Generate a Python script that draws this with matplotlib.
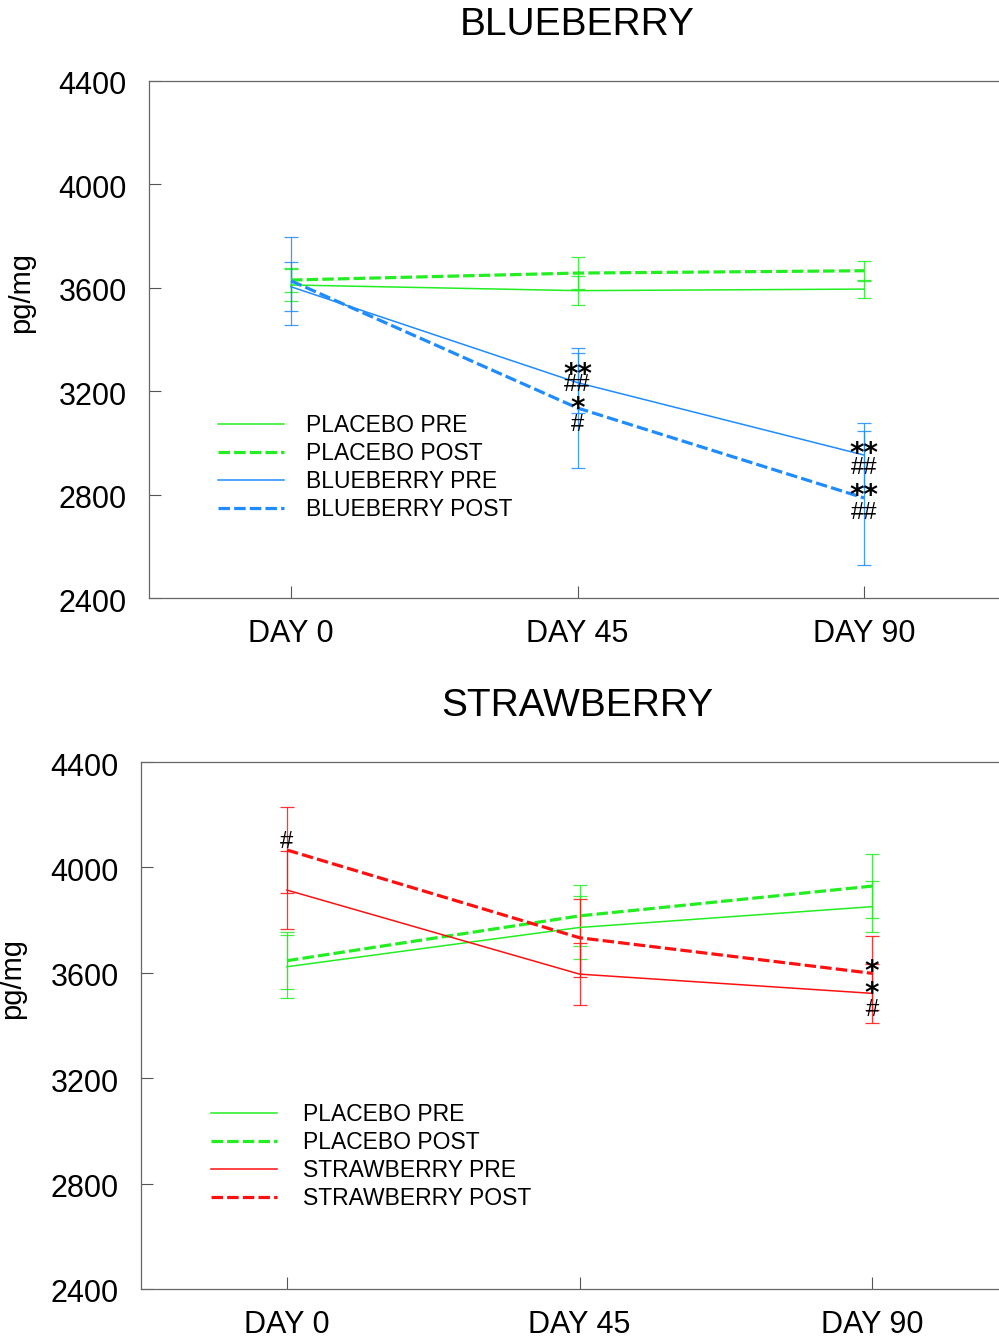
import matplotlib
matplotlib.use("Agg")
import matplotlib.pyplot as plt
import matplotlib.transforms as mtransforms

plt.rcParams['font.family'] = ['Liberation Sans', 'DejaVu Sans']

days = ["DAY 0", "DAY 45", "DAY 90"]
x_pos = [0, 1, 2]
y_ticks = [2400, 2800, 3200, 3600, 4000, 4400]

# blueberry study (pg/mg), mean and error
placebo_pre_bb = [3611, 3589, 3595]
placebo_pre_bb_err = [62, 56, 35]
placebo_post_bb = [3630, 3657, 3666]
placebo_post_bb_err = [48, 62, 39]
blueberry_pre = [3604, 3233, 2953]
blueberry_pre_err = [95, 116, 124]
blueberry_post = [3627, 3135, 2787]
blueberry_post_err = [170, 232, 259]

# strawberry study (pg/mg)
placebo_pre_sb = [3623, 3772, 3851]
placebo_pre_sb_err = [120, 118, 97]
placebo_post_sb = [3646, 3816, 3929]
placebo_post_sb_err = [107, 116, 120]
strawberry_pre = [3914, 3595, 3522]
strawberry_pre_err = [148, 118, 113]
strawberry_post = [4066, 3733, 3598]
strawberry_post_err = [163, 148, 140]

GREEN = '#22ee22'
BLUE = '#1e8cff'
RED = '#ff1010'
DASH = (0, (3.6, 1.3))


def draw_series(ax, y, err, color, dashed, label):
    ax.errorbar(x_pos, y, yerr=err, fmt='none', ecolor=color, elinewidth=0.9,
                capsize=5, capthick=0.9, alpha=0.85, zorder=2)
    if dashed:
        ax.plot(x_pos, y, color=color, lw=2.3, linestyle=DASH, label=label, zorder=3)
    else:
        ax.plot(x_pos, y, color=color, lw=1.1, label=label, zorder=3)


def mark(ax, x, y, txt, up_px):
    # up_px: how far above the point the centre of the glyphs should sit
    if '*' in txt:
        base = up_px - 15.0
        kw = dict(fontsize=20, fontweight='bold', family='DejaVu Sans')
    else:
        base = up_px - 8.2
        kw = dict(fontsize=17)
    ax.annotate(txt, (x, y), xytext=(0, base / 1.389), textcoords='offset points',
                ha='center', va='baseline', color='black', zorder=5, **kw)


def style_axes(ax, xlim, title, legend_anchor, textpad):
    ax.set_xlim(*xlim)
    ax.set_ylim(2400, 4400)
    ax.set_xticks(x_pos)
    ax.set_xticklabels(days)
    ax.set_yticks(y_ticks)
    ax.tick_params(direction='in', length=8.5, width=0.8, color='#555555',
                   labelsize=22, pad=16)
    ax.tick_params(axis='x', pad=15)
    # y labels sit a little below their ticks in the original
    shift = mtransforms.ScaledTranslation(0, -2 / 100, ax.figure.dpi_scale_trans)
    for lab in ax.get_yticklabels():
        lab.set_transform(lab.get_transform() + shift)
    ax.spines['right'].set_visible(False)
    for s in ['left', 'top', 'bottom']:
        ax.spines[s].set_color('#666666')
        ax.spines[s].set_linewidth(0.9)
    ax.set_ylabel('pg/mg', fontsize=21)
    ax.yaxis.set_label_coords(-0.134, 0.59)
    ax.set_title(title, fontsize=28, pad=33)
    ax.legend(loc='upper left', bbox_to_anchor=legend_anchor,
              bbox_transform=ax.figure.transFigure, frameon=False, fontsize=16.5,
              handlelength=2.9, handletextpad=textpad, labelspacing=0.22,
              borderpad=0, borderaxespad=0)


fig = plt.figure(figsize=(9.99, 13.39), dpi=100)

# top panel
ax1 = fig.add_axes([149 / 999, 1 - 598 / 1339, 850 / 999, 517 / 1339])
draw_series(ax1, placebo_pre_bb, placebo_pre_bb_err, GREEN, False, 'PLACEBO PRE')
draw_series(ax1, placebo_post_bb, placebo_post_bb_err, GREEN, True, 'PLACEBO POST')
draw_series(ax1, blueberry_pre, blueberry_pre_err, BLUE, False, 'BLUEBERRY PRE')
draw_series(ax1, blueberry_post, blueberry_post_err, BLUE, True, 'BLUEBERRY POST')
style_axes(ax1, (-0.4956, 2.471), 'BLUEBERRY', (218 / 999, 1 - 414 / 1339), 0.95)
ax1.title.set_x(0.5035)

mark(ax1, 1, blueberry_pre[1], '**', 15)
mark(ax1, 1, blueberry_pre[1], '##', 0)
mark(ax1, 1, blueberry_post[1], '*', 6)
mark(ax1, 1, blueberry_post[1], '#', -15)
mark(ax1, 2, blueberry_pre[2], '**', 8)
mark(ax1, 2, blueberry_pre[2], '##', -11)
mark(ax1, 2, blueberry_post[2], '**', 9)
mark(ax1, 2, blueberry_post[2], '##', -13)

# bottom panel
ax2 = fig.add_axes([141 / 999, 1 - 1289 / 1339, 858 / 999, 527 / 1339])
draw_series(ax2, placebo_pre_sb, placebo_pre_sb_err, GREEN, False, 'PLACEBO PRE')
draw_series(ax2, placebo_post_sb, placebo_post_sb_err, GREEN, True, 'PLACEBO POST')
draw_series(ax2, strawberry_pre, strawberry_pre_err, RED, False, 'STRAWBERRY PRE')
draw_series(ax2, strawberry_post, strawberry_post_err, RED, True, 'STRAWBERRY POST')
style_axes(ax2, (-0.499, 2.434), 'STRAWBERRY', (211 / 999, 1 - 1103 / 1339), 1.1)
ax2.title.set_x(0.508)

mark(ax2, 0, strawberry_post[0], '#', 10)
mark(ax2, 2, strawberry_post[2], '*', 8)
mark(ax2, 2, strawberry_pre[2], '*', 6)
mark(ax2, 2, strawberry_pre[2], '#', -14)

fig.savefig('out.png', dpi=100)
